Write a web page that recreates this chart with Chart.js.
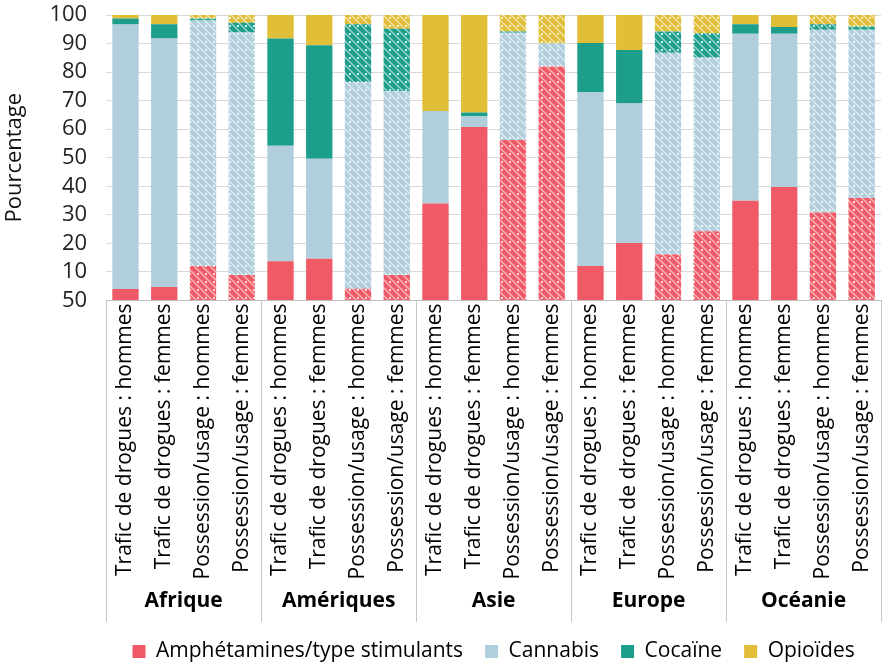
<html>
  <head>
    <script src="https://cdn.jsdelivr.net/npm/chart.js"></script>
    <style>
      body { margin: 0; background: #fff; }
      #wrap { width: 890px; height: 665px; }
    </style>
    <script>
// données (pourcentages)
const regions = ['Afrique', 'Amériques', 'Asie', 'Europe', 'Océanie'];
const types = ['Trafic de drogues : hommes', 'Trafic de drogues : femmes',
  'Possession/usage : hommes', 'Possession/usage : femmes'];
const hachure = [false, false, true, true];

const amphetamines = [4, 4.7, 12.1, 8.9, 13.7, 14.6, 4.1, 8.9, 34, 60.8, 56.2, 82, 12.1, 20.1, 16.1, 24.2, 34.9, 39.7, 30.8, 35.9];
const cannabis = [92.7, 87.1, 86, 85, 40.5, 35, 72.3, 64.4, 32.4, 3.8, 37.6, 8, 60.9, 48.9, 70.7, 60.8, 58.5, 53.7, 64, 58.9];
const cocaine = [2.1, 5, 0.7, 3.4, 37.6, 39.8, 20.4, 21.9, 0, 1.2, 0.4, 0, 17.2, 18.7, 7.4, 8.6, 3.4, 2.4, 2, 1.2];
const opioides = [1.2, 3.2, 1.2, 2.7, 8.2, 10.6, 3.2, 4.8, 33.6, 34.2, 5.8, 10, 9.8, 12.3, 5.8, 6.4, 3.2, 4.2, 3.2, 4];

const yTicks = [0, 10, 20, 30, 40, 50, 60, 70, 80, 90, 100];
const yTickLabels = ['50', '10', '20', '30', '40', '50', '60', '70', '80', '90', '100'];

function motif(color) {
  const c = document.createElement('canvas');
  c.width = 8; c.height = 8;
  const g = c.getContext('2d');
  g.fillStyle = color;
  g.fillRect(0, 0, 8, 8);
  g.strokeStyle = 'rgba(255,255,255,0.55)';
  g.lineWidth = 1.5;
  g.beginPath();
  g.moveTo(-2, -2); g.lineTo(10, 10);
  g.moveTo(-6, 2); g.lineTo(2, 10);
  g.moveTo(2, -6); g.lineTo(10, 2);
  g.stroke();
  g.fillStyle = 'rgba(255,255,255,0.8)';
  g.fillRect(5, 1, 2, 2);
  return g.createPattern(c, 'repeat');
}

const separateurs = {
  id: 'separateurs',
  afterDraw(chart) {
    const x = chart.scales.x, x2 = chart.scales.x2;
    const ctx = chart.ctx;
    ctx.save();
    ctx.strokeStyle = '#c8c8c8';
    ctx.lineWidth = 1;
    for (let k = 0; k <= regions.length; k++) {
      const px = Math.round(x.left + k * x.width / regions.length) + 0.5;
      ctx.beginPath();
      ctx.moveTo(px, chart.chartArea.bottom);
      ctx.lineTo(px, x2.bottom + 3);
      ctx.stroke();
    }
    ctx.restore();
  }
};

function init() {
  const labels = [];
  const pat = [];
  regions.forEach(r => types.forEach((t, i) => { labels.push(t); pat.push(hachure[i]); }));

  const series = [
    ['Amphétamines/type stimulants', amphetamines, '#f05a66'],
    ['Cannabis', cannabis, '#b1cedc'],
    ['Cocaïne', cocaine, '#1c9e8b'],
    ['Opioïdes', opioides, '#e1be38']
  ];
  const datasets = series.map(s => {
    const p = motif(s[2]);
    return {
      label: s[0],
      data: s[1],
      backgroundColor: pat.map(h => h ? p : s[2]),
      legendColor: s[2],
      borderWidth: 0,
      barPercentage: 0.68,
      categoryPercentage: 1
    };
  });

  Chart.defaults.font.family = "'Open Sans', sans-serif";
  Chart.defaults.color = '#111';

  new Chart(document.getElementById('myChart'), {
    type: 'bar',
    data: { labels: labels, datasets: datasets },
    options: {
      responsive: false,
      animation: false,
      layout: { padding: { top: 15, right: 4, left: 0, bottom: 0 } },
      plugins: {
        tooltip: { enabled: false },
        legend: {
          position: 'bottom',
          fullSize: false,
          maxHeight: 46,
          labels: {
            boxWidth: 13, boxHeight: 13, padding: 22,
            font: { size: 21 },
            generateLabels(chart) {
              return chart.data.datasets.map((d, i) => ({
                text: d.label, fillStyle: d.legendColor, strokeStyle: d.legendColor,
                lineWidth: 0, datasetIndex: i, hidden: false
              }));
            }
          }
        }
      },
      scales: {
        x: {
          stacked: true,
          grid: { display: false, drawTicks: false },
          border: { color: '#bfbfbf' },
          ticks: { minRotation: 90, maxRotation: 90, autoSkip: false, padding: 3, font: { size: 21 }, color: '#000' }
        },
        x2: {
          type: 'category',
          labels: regions,
          position: 'bottom',
          offset: true,
          grid: { display: false, drawTicks: false },
          border: { display: false },
          ticks: { font: { size: 21, weight: 'bold', lineHeight: 0.6 }, color: '#000', padding: 12 }
        },
        y: {
          stacked: true,
          min: 0, max: 100,
          afterBuildTicks(axis) { axis.ticks = yTicks.map(v => ({ value: v })); },
          afterFit(axis) { axis.paddingTop = 0; axis.paddingBottom = 0; },
          grid: { color: '#d9d9d9', drawTicks: false },
          border: { display: false },
          ticks: {
            autoSkip: false,
            padding: 19, font: { size: 22 }, color: '#222',
            callback: (v) => yTickLabels[yTicks.indexOf(v)]
          },
          title: { display: true, text: 'Pourcentage', font: { size: 22 }, color: '#111', padding: 2 }
        }
      }
    },
    plugins: [separateurs]
  });
}
window.onload = init;
    </script>
  </head>
  <body>
    <div id="wrap"><canvas id="myChart" width="890" height="665"></canvas></div>
  </body>
</html>
